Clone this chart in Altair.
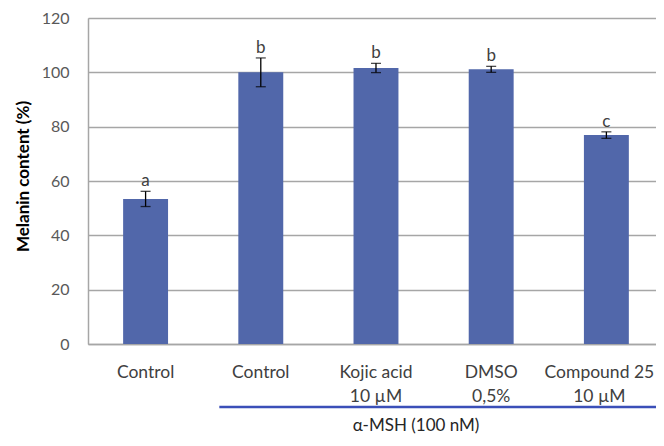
import json
import altair as alt
import pandas as pd

keys = ["G1", "G2", "G3", "G4", "G5"]
line1 = ["Control", "Control", "Kojic acid", "DMSO", "Compound 25"]
line2 = ["", "", "10 µM", "0,5%", "10 µM"]
means = [53.4, 100.0, 101.6, 101.1, 76.9]
errs = [2.8, 5.3, 1.7, 1.1, 1.2]
letters = ["a", "b", "b", "b", "c"]
y_ticks = [0, 20, 40, 60, 80, 100, 120]
group_label = "α-MSH (100 nM)"
group_start = "G2"
group_text_anchor = "G3"

df = pd.DataFrame({
    "key": keys,
    "mean": means,
    "err": errs,
    "letter": letters,
})
df["lo"] = df["mean"] - df["err"]
df["hi"] = df["mean"] + df["err"]

label_map = {k: ([a, b] if b else [a]) for k, a, b in zip(keys, line1, line2)}
label_expr = json.dumps(label_map) + "[datum.value]"

FONT = "Lato"

x_scale = alt.Scale(paddingInner=0.61, paddingOuter=0.2703, align=0.564)

x_enc = alt.X(
    "key:N",
    sort=keys,
    scale=x_scale,
    axis=alt.Axis(
        title=None,
        labelAngle=0,
        labelExpr=label_expr,
        labelFont=FONT,
        labelFontSize=17.5,
        labelColor="#404040",
        labelPadding=19,
        labelLineHeight=24,
        labelBaseline="top",
        labelOffset={"condition": {"test": "datum.value === 'G5'", "value": -7}, "value": 0},
        ticks=False,
        domainColor="#a6a6a6",
        domainWidth=1.5,
    ),
)

y_scale = alt.Scale(domain=[0, 120], nice=False)

bars = alt.Chart(df).mark_bar(color="#5167aa").encode(
    x=x_enc,
    y=alt.Y(
        "mean:Q",
        scale=y_scale,
        axis=alt.Axis(
            values=y_ticks,
            title="Melanin content (%)",
            titleFont=FONT,
            titleFontSize=17,
            titleFontWeight="bold",
            titleColor="#000000",
            titleX=-65,
            titleY=158,
            titleAngle=270,
            titleAlign="center",
            titleBaseline="middle",
            labelFont=FONT,
            labelFontSize=16,
            labelColor="#595959",
            labelPadding=19,
            ticks=False,
            grid=True,
            gridColor="#a6a6a6",
            gridWidth=1.5,
            domainColor="#a6a6a6",
            domainWidth=1.5,
        ),
    ),
)

err_rule = alt.Chart(df).mark_rule(color="#000000", strokeWidth=1.3).encode(
    x=alt.X("key:N", sort=keys),
    y=alt.Y("lo:Q", scale=y_scale),
    y2="hi:Q",
)
err_lo = alt.Chart(df).mark_tick(color="#000000", size=10, thickness=1.3).encode(
    x=alt.X("key:N", sort=keys),
    y=alt.Y("lo:Q", scale=y_scale),
)
err_hi = alt.Chart(df).mark_tick(color="#000000", size=10, thickness=1.3).encode(
    x=alt.X("key:N", sort=keys),
    y=alt.Y("hi:Q", scale=y_scale),
)

letter_text = alt.Chart(df).mark_text(
    font=FONT, fontSize=17, color="#404040", baseline="bottom", dy=-1
).encode(
    x=alt.X("key:N", sort=keys),
    y=alt.Y("hi:Q", scale=y_scale),
    text="letter:N",
)

grp = pd.DataFrame({"start": [group_start], "anchor": [group_text_anchor], "label": [group_label]})

grp_line = alt.Chart(grp).mark_rule(color="#3b4fb8", strokeWidth=2.5).encode(
    x=alt.value({"expr": "scale('x', '%s') - 19" % group_start}),
    x2=alt.value({"expr": "width"}),
    y=alt.value(389),
)

grp_text = alt.Chart(grp).mark_text(
    font=FONT, fontSize=17, color="#262626", baseline="middle", align="center", dx=40
).encode(
    x=alt.X("anchor:N", sort=keys),
    y=alt.value(408),
    text="label:N",
)

chart = alt.layer(bars, err_rule, err_lo, err_hi, letter_text, grp_line, grp_text).properties(
    width=568,
    height=326,
    padding={"left": 80, "top": 10, "right": 0, "bottom": 94},
    autosize=alt.AutoSizeParams(type="none"),
).configure_view(stroke=None).configure(background="#ffffff")

chart.save("out.html", embed_options={"renderer": "svg", "actions": False})
